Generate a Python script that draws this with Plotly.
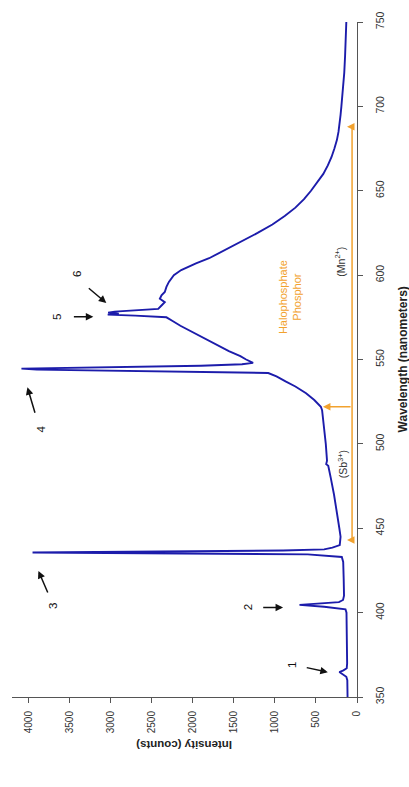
import plotly.graph_objects as go

# Spectrum (wavelength nm, intensity counts)
wavelength = [350, 355, 360, 362, 363.5, 364.8, 365.8, 367, 370, 380, 390, 400, 402, 403.5, 404.6, 405.3,
              406.2, 407.5, 410, 420, 430, 433, 434.5, 435.6, 436.3, 436.8, 437.5, 438.5, 440, 445, 450,
              460, 470, 480, 485, 487, 488, 490, 500, 510, 520, 522, 526, 530, 534, 537, 540, 542, 543,
              544, 544.6, 545.5, 546.3, 547.2, 548, 550, 552, 555, 560, 565, 570, 573, 575, 576, 576.6,
              577.2, 577.8, 578.4, 579.2, 580, 582, 584, 586, 588, 590, 593, 596, 600, 603, 607, 610,
              615, 620, 625, 630, 635, 640, 645, 650, 655, 660, 665, 670, 675, 680, 685, 690, 695, 700,
              705, 710, 720, 730, 740, 750]
intensity = [115, 115, 118, 130, 170, 215, 165, 125, 120, 122, 124, 128, 140, 400, 700, 500,
             220, 170, 158, 162, 168, 185, 600, 3950, 2600, 900, 400, 300, 210, 200, 215,
             245, 280, 320, 345, 350, 375, 365, 380, 400, 425, 440, 520, 620, 750, 870, 980, 1080, 2500,
             3900, 4085, 3000, 1900, 1400, 1265, 1350, 1420, 1560, 1760, 1950, 2150, 2250, 2320, 2700, 3035,
             2900, 3030, 2950, 2600, 2420, 2380, 2340, 2400, 2380, 2340, 2320, 2290, 2230, 2140, 1960, 1800,
             1600, 1420, 1210, 1030, 880, 750, 645, 560, 480, 410, 355, 310, 275, 245, 225, 210, 200, 190,
             180, 170, 155, 145, 135, 130]

x_ticks = [0, 500, 1000, 1500, 2000, 2500, 3000, 3500, 4000]
y_ticks = [350, 400, 450, 500, 550, 600, 650, 700, 750]

# Peak markers: label, label pos, arrow tail, arrow head (intensity, wavelength)
peak_labels = ["1", "2", "3", "4", "5", "6"]
label_pos = [(790, 369), (1330, 403), (3700, 404), (3850, 509), (3650, 575.3), (3400, 600.5)]
arrow_tail = [(630, 367.6), (1160, 403), (3757, 411), (3915, 517.6), (3465, 575.3), (3283, 593)]
arrow_head = [(355, 364.7), (900, 403), (3878, 424.7), (4012, 533.5), (3210, 575.3), (3052, 583.5)]

# Halophosphate bracket
bracket_x = 60
bracket_range = [443, 688]
bracket_mid = 522
bracket_mid_head = 415
bracket_end_head = 122

BLUE = "#1c1cab"
ORANGE = "#F2A22E"
AXIS = "#555555"
FONT = "Liberation Sans, Arial, sans-serif"

fig = go.Figure()
fig.add_trace(go.Scatter(x=intensity, y=wavelength, mode="lines",
                         line=dict(color=BLUE, width=1.9), showlegend=False, hoverinfo="skip"))

# bracket vertical line
fig.add_trace(go.Scatter(x=[bracket_x, bracket_x], y=bracket_range, mode="lines",
                         line=dict(color=ORANGE, width=1.5), showlegend=False, hoverinfo="skip"))

ann = []
for lab, lp, t, h in zip(peak_labels, label_pos, arrow_tail, arrow_head):
    ann.append(dict(x=h[0], y=h[1], ax=t[0], ay=t[1], xref="x", yref="y", axref="x", ayref="y",
                    showarrow=True, arrowhead=2, arrowsize=1, arrowwidth=1.5, arrowcolor="#111111", text=""))
    ann.append(dict(x=lp[0], y=lp[1], xref="x", yref="y", text=lab, showarrow=False, textangle=-90,
                    font=dict(size=11.5, color="#111111", family=FONT)))

for wl, head in [(bracket_mid, bracket_mid_head), (bracket_range[0], bracket_end_head),
                 (bracket_range[1], bracket_end_head)]:
    ann.append(dict(x=head, y=wl, ax=bracket_x, ay=wl, xref="x", yref="y", axref="x", ayref="y",
                    showarrow=True, arrowhead=2, arrowsize=1, arrowwidth=1.5, arrowcolor=ORANGE, text=""))

ann.append(dict(x=182, y=488, xref="x", yref="y", text="(Sb<sup>3+</sup>)", showarrow=False, textangle=-90,
                font=dict(size=10.5, color="#333333", family=FONT)))
ann.append(dict(x=207, y=608, xref="x", yref="y", text="(Mn<sup>2+</sup>)", showarrow=False, textangle=-90,
                font=dict(size=10.5, color="#333333", family=FONT)))
ann.append(dict(x=815, y=587, xref="x", yref="y", text="Halophosphate<br>Phosphor", showarrow=False,
                textangle=-90, font=dict(size=11, color=ORANGE, family=FONT)))

# axis titles
ann.append(dict(x=0.5, y=-0.072, xref="paper", yref="paper", text="<b>Intensity (counts)</b>", showarrow=False,
                textangle=180, xanchor="center", yanchor="middle", font=dict(size=11.5, color="#222222", family=FONT)))
ann.append(dict(x=1.133, y=0.5, xref="paper", yref="paper", text="<b>Wavelength (nanometers)</b>", showarrow=False,
                textangle=-90, xanchor="center", yanchor="middle", font=dict(size=12, color="#222222", family=FONT)))

fig.update_layout(
    width=409, height=787,
    margin=dict(l=12, r=52, t=17, b=90),
    plot_bgcolor="white", paper_bgcolor="white",
    font=dict(family=FONT, size=10, color="#333333"),
    annotations=ann,
    xaxis=dict(range=[4200, 0], tickvals=x_ticks, ticktext=[str(v) for v in x_ticks], tickangle=-90,
               ticks="outside", ticklen=5, tickcolor=AXIS, showline=True, linecolor=AXIS, linewidth=1,
               showgrid=False, zeroline=False, ticklabelstandoff=4,
               tickfont=dict(size=10, color="#333333")),
    yaxis=dict(range=[350, 750], tickvals=y_ticks, side="right", tickangle=-90,
               ticks="outside", ticklen=5, tickcolor=AXIS, showline=True, linecolor=AXIS, linewidth=1,
               showgrid=False, zeroline=False, ticklabelstandoff=8,
               tickfont=dict(size=10.5, color="#333333")),
)

fig.write_html("out.html")
